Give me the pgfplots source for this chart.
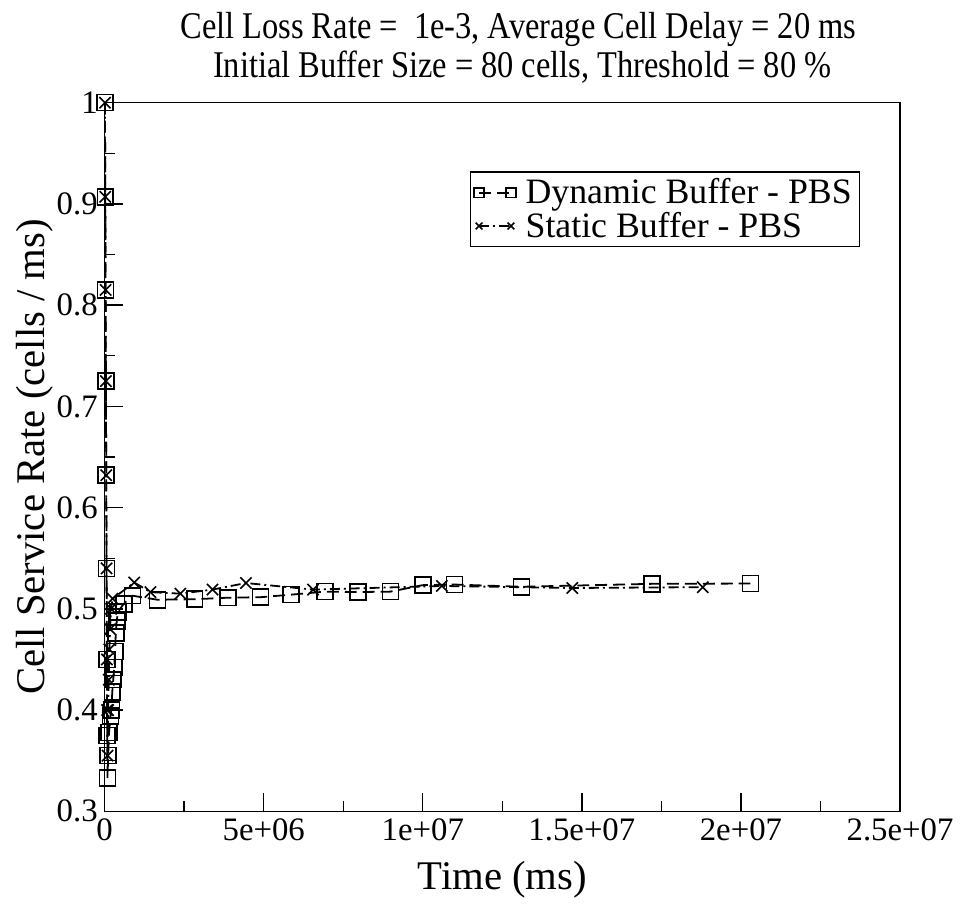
\documentclass[border=0pt]{standalone}
\usepackage{fontspec}
\setmainfont{Liberation Serif}
\newfontfamily\titlefont[FakeStretch=0.86]{Liberation Serif}
\usepackage{pgfplots}
\pgfplotsset{compat=1.18}
\begin{document}
\begin{tikzpicture}
\begin{axis}[
  at={(0,0)}, anchor=south west,
  scale only axis, width=399bp, height=355.5bp,
  xmin=0, xmax=2.5e7, ymin=0.3, ymax=1,
  xtick={0,5e6,1e7,1.5e7,2e7,2.5e7},
  xticklabels={0,5e+06,1e+07,1.5e+07,2e+07,2.5e+07},
  ytick={0.3,0.4,0.5,0.6,0.7,0.8,0.9,1},
  yticklabels={0.3,0.4,0.5,0.6,0.7,0.8,0.9,1},
  minor tick num=1,
  tick pos=left, tick align=inside,
  major tick length=9bp, minor tick length=5bp,
  axis line style={line width=0.75bp},
  every tick/.style={line width=0.7bp, black},
  ticklabel style={font=\fontsize{16.5}{18}\selectfont},
  /pgf/number format/assume math mode=true,
  scaled x ticks=false,
  xlabel={Time (ms)}, ylabel={Cell Service Rate (cells / ms)},
  label style={font=\fontsize{20.5}{24}\selectfont},
  xlabel style={at={(axis description cs:0.5,-0.097)}, anchor=center},
  ylabel style={at={(axis description cs:-0.0877,0.5)}, anchor=center},
  legend style={at={(axis description cs:0.95,0.903)}, anchor=north east,
    font=\fontsize{18}{20}\selectfont, draw=black, line width=0.6bp,
    inner sep=2bp, row sep=0bp,
    nodes={inner ysep=1.3bp, inner xsep=2bp},
    /tikz/every odd column/.style={column sep=3bp}},
  legend cell align=left,
  legend image code/.code={\draw[mark repeat=2,mark phase=1,#1,mark size=2.4bp] plot coordinates {(0bp,0bp) (8bp,0bp) (16bp,0bp)};},
]
\addplot[black, line width=0.9bp, dash pattern=on 6bp off 3bp,
  mark=square, mark size=4bp, mark options={solid, line width=0.8bp}] coordinates {
(1e4,1.000) (2e4,0.907) (3e4,0.815) (4e4,0.725) (5e4,0.632) (6e4,0.540)
(7e4,0.450) (8e4,0.375) (9e4,0.333) (1.1e5,0.355) (1.4e5,0.378) (1.8e5,0.394)
(2.1e5,0.400) (2.4e5,0.418) (2.7e5,0.430) (3.0e5,0.442) (3.3e5,0.458)
(3.5e5,0.476) (3.8e5,0.488) (4.2e5,0.497) (6.0e5,0.505) (8.7e5,0.513)
(1.66e6,0.509) (2.83e6,0.5095) (3.87e6,0.511) (4.9e6,0.5115) (5.86e6,0.514)
(6.93e6,0.517) (7.97e6,0.5166) (8.98e6,0.517) (1.0e7,0.5234) (1.1e7,0.524)
(1.31e7,0.5218) (1.72e7,0.5247) (2.03e7,0.525)
};
\addlegendentry{Dynamic Buffer - PBS}
\addplot[black, line width=0.9bp, dash pattern=on 5bp off 2bp on 1bp off 2bp,
  mark=x, mark size=4bp, mark options={solid, line width=0.8bp}] coordinates {
(1e4,1.000) (2e4,0.907) (3e4,0.815) (4e4,0.725) (5e4,0.632) (6e4,0.540)
(7e4,0.450) (8e4,0.400) (9e4,0.355) (1.1e5,0.400) (1.3e5,0.430) (1.5e5,0.460)
(1.7e5,0.480) (2.0e5,0.500) (2.5e5,0.510) (9.3e5,0.526) (1.44e6,0.5165)
(2.38e6,0.515) (3.39e6,0.519) (4.44e6,0.5255) (6.55e6,0.519) (1.06e7,0.5226)
(1.47e7,0.5206) (1.88e7,0.5214)
};
\addlegendentry{Static Buffer - PBS}
\end{axis}
\node[anchor=base, font=\titlefont\fontsize{19}{21}\selectfont] at (207.5bp,387.5bp) {Cell Loss Rate =\ \ 1e-3, Average Cell Delay = 20 ms};
\node[anchor=base, font=\titlefont\fontsize{19}{21}\selectfont] at (209.5bp,368bp) {Initial Buffer Size = 80 cells, Threshold = 80 \%};
\path (-52.5bp,-50.5bp) rectangle (427.5bp,407bp);
\end{tikzpicture}
\end{document}
